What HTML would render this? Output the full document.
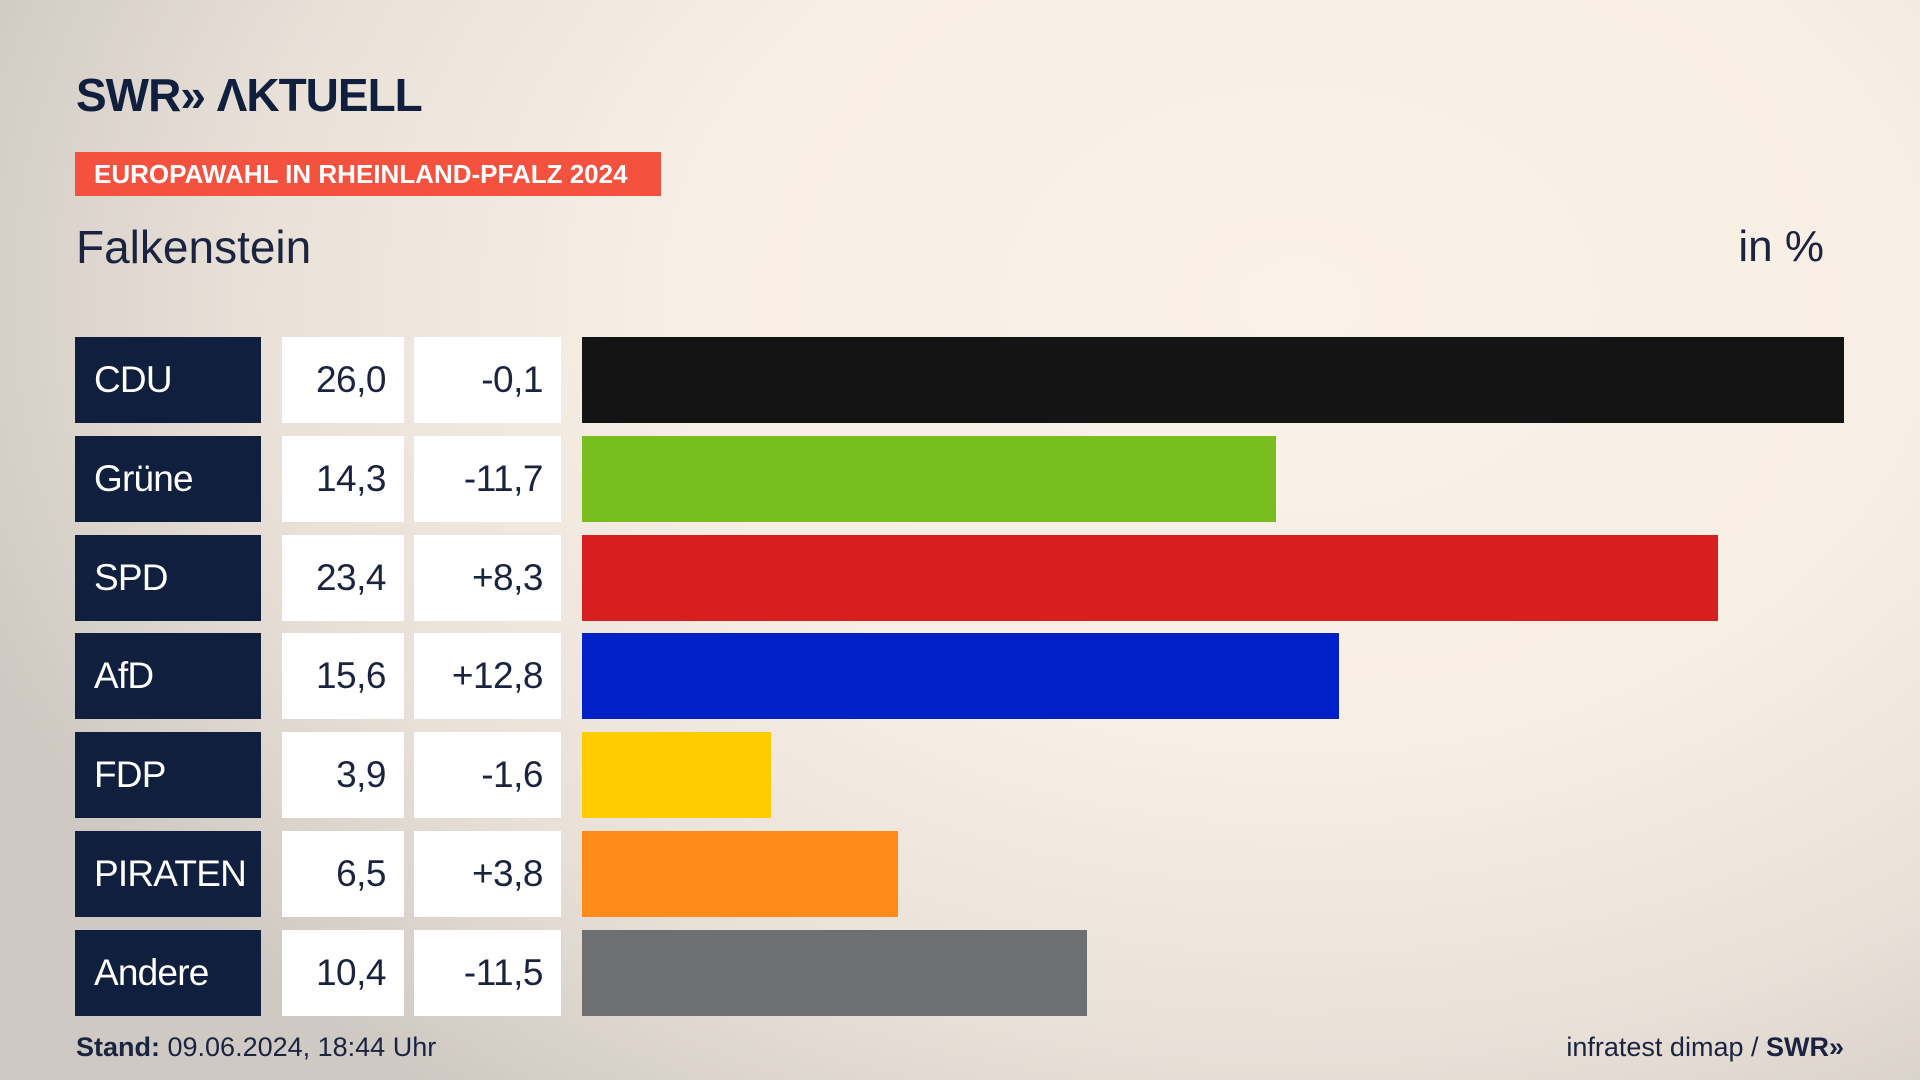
<!DOCTYPE html>
<html><head><meta charset="utf-8">
<style>
html,body{margin:0;padding:0}
body{width:1920px;height:1080px;position:relative;overflow:hidden;font-family:"Liberation Sans","DejaVu Sans",sans-serif;
background:radial-gradient(ellipse 1400px 1000px at 1300px 300px,#faf1e7 0%,#f7eee4 45%,#e9e1d8 75%,#cfc9c3 100%);}
.abs{position:absolute}
.logo{left:76px;top:68px;font-size:46px;font-weight:bold;color:#0f1f3d;letter-spacing:-1px}
.banner{left:75px;top:152px;width:586px;height:44px;background:#f4513f;color:#fff;font-weight:bold;font-size:26px;line-height:44px;text-indent:19px}
.title{left:76px;top:220px;font-size:46px;color:#1a2340}
.unit{right:96px;top:222px;font-size:44px;color:#1a2340}
.party{background:#0f1f3d;color:#fff;font-size:37px;padding-left:19px;box-sizing:border-box;letter-spacing:-0.8px;white-space:nowrap}
.val{background:#fff;color:#1a2340;font-size:37px;text-align:right;padding-right:18px;box-sizing:border-box;letter-spacing:-0.5px}
.foot{top:1032px;font-size:27px;color:#1a2340}
</style></head><body>
<div class="abs logo">SWR» ΛKTUELL</div>
<div class="abs banner">EUROPAWAHL IN RHEINLAND-PFALZ 2024</div>
<div class="abs title">Falkenstein</div>
<div class="abs unit">in %</div>
<div id="chart"></div>
<div class="abs foot" style="left:76px"><b>Stand:</b> 09.06.2024, 18:44 Uhr</div>
<div class="abs foot" style="right:76px">infratest dimap / <b>SWR»</b></div>
<script>
const parties=["CDU","Grüne","SPD","AfD","FDP","PIRATEN","Andere"];
const shares=[26.0,14.3,23.4,15.6,3.9,6.5,10.4];
const diffs=[-0.1,-11.7,8.3,12.8,-1.6,3.8,-11.5];
const colors=["#141414","#78be1e","#d71f1f","#0021c8","#ffcc00","#ff8c19","#6e6f70"];
const x0=582,pxPer=(1844-582)/26.0,top0=337,pitch=98.8,h=86;
const xs=v=>v*pxPer;
const fmt=v=>v.toFixed(1).replace('.',',');
const c=document.getElementById('chart');
parties.forEach((p,i)=>{
  const y=top0+i*pitch;
  const a=document.createElement('div');
  a.className='abs party';
  
  
  a.style.cssText=`left:75px;top:${y}px;width:186px;height:${h}px;line-height:${h}px`;
  a.textContent=p;c.appendChild(a);
  const b=document.createElement('div');
  b.className='abs val';
  
  
  b.style.cssText=`left:282px;top:${y}px;width:122px;height:${h}px;line-height:${h}px`;
  b.textContent=fmt(shares[i]);c.appendChild(b);
  const d=document.createElement('div');
  d.className='abs val';
  
  
  d.style.cssText=`left:414px;top:${y}px;width:147px;height:${h}px;line-height:${h}px`;
  d.textContent=(diffs[i]>0?'+':'')+fmt(diffs[i]);c.appendChild(d);
  const r=document.createElement('div');
  r.className='abs';
  
  
  r.style.cssText=`left:${x0}px;top:${y}px;width:${xs(shares[i])}px;height:${h}px;background:${colors[i]}`;
  c.appendChild(r);
});
</script>
</body></html>
